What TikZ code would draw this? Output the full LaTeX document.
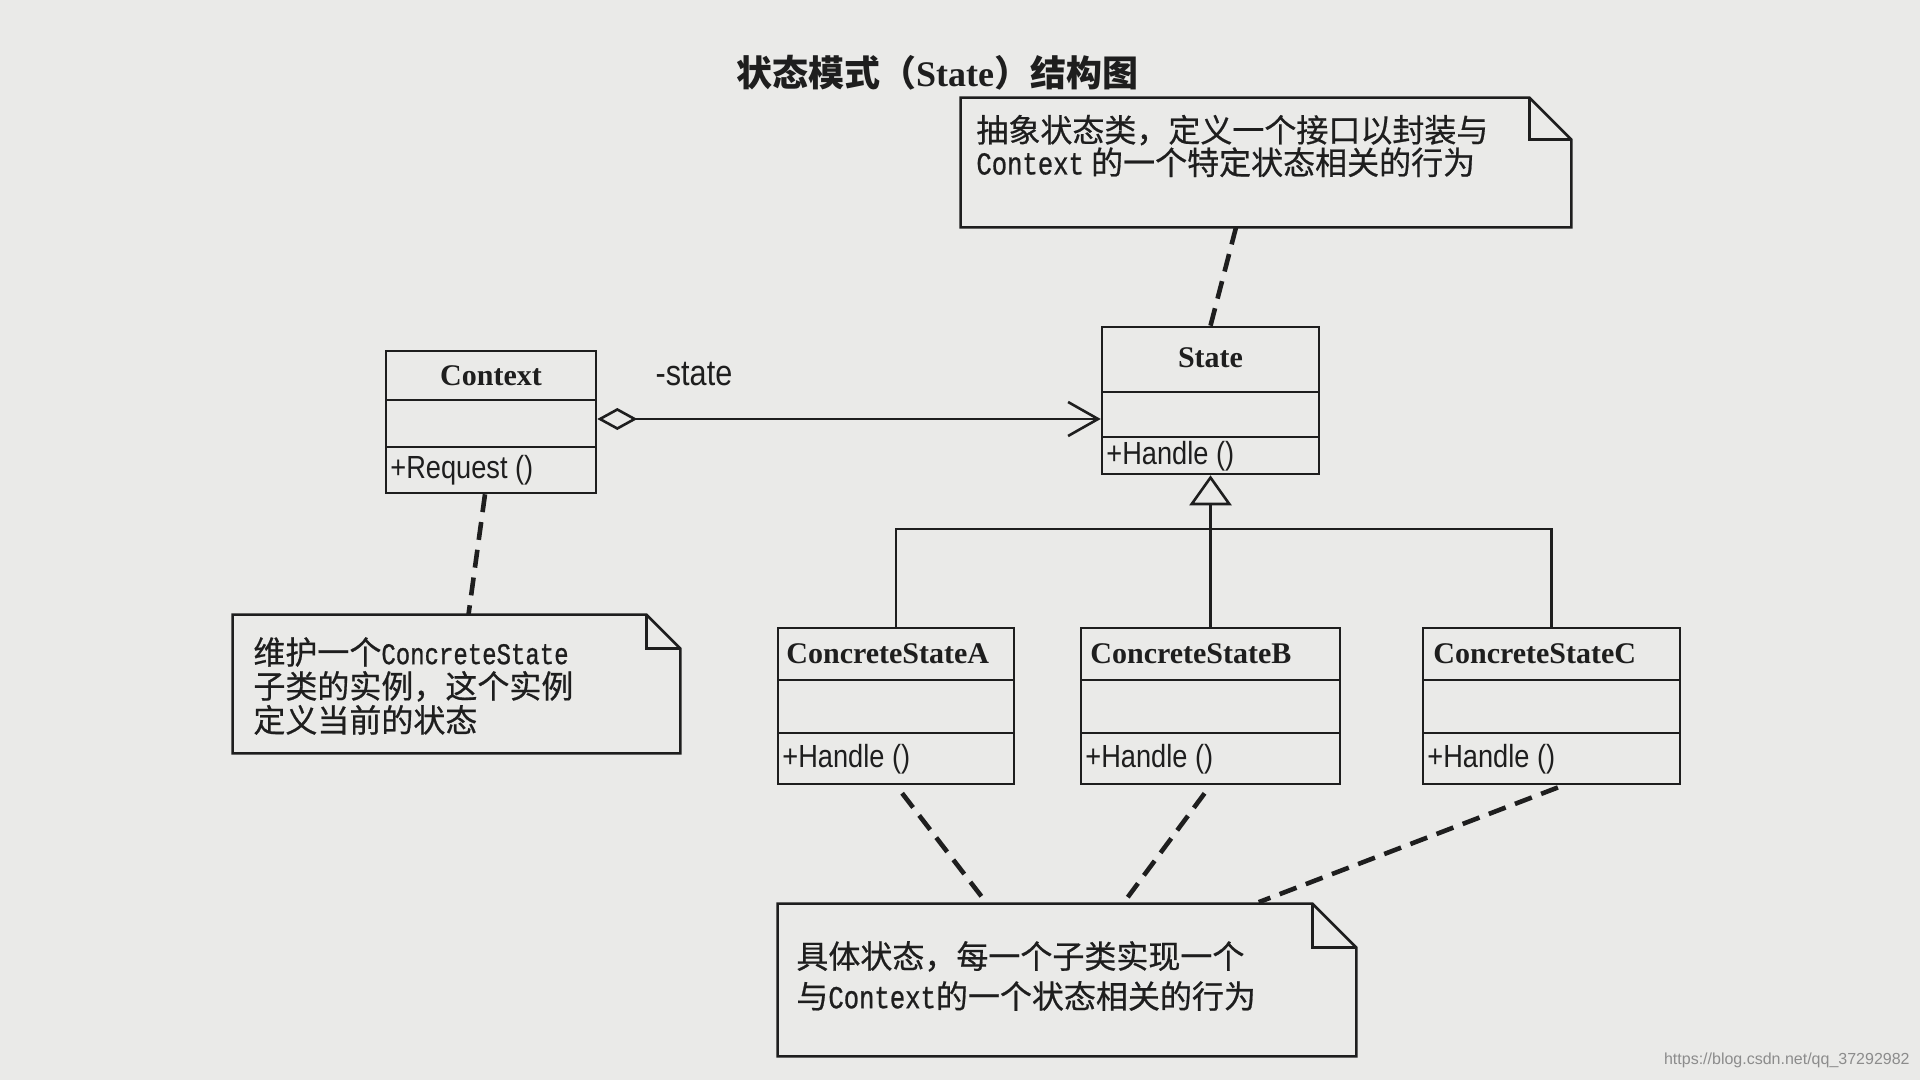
\documentclass[tikz,border=0pt]{standalone}
\usepackage{fontspec}
\setmainfont{Liberation Serif}
\newfontfamily\cjk{Noto Sans CJK SC}
\newfontfamily\cjknote[FakeBold=0.6]{Noto Sans CJK SC}
\newfontfamily\condsans[FakeStretch=0.85]{Liberation Sans}
\newfontfamily\condmono[FakeStretch=0.8,FakeBold=0.8]{Liberation Mono}
\newfontfamily\urlfont{Liberation Sans}
\usetikzlibrary{arrows.meta,fit,calc}
\definecolor{paper}{RGB}{234,234,232}
\definecolor{ink}{RGB}{30,30,30}
\newcommand\foldnote[2]{%
  \draw[ln] (#1.north west) -- ([xshift=-#2]#1.north east) -- ([yshift=-#2]#1.north east) -- (#1.south east) -- (#1.south west) -- cycle;
  \draw[ln] ([xshift=-#2]#1.north east) -- ([xshift=-#2,yshift=-#2]#1.north east) -- ([yshift=-#2]#1.north east);}
\begin{document}
\begin{tikzpicture}[x=0.5pt,y=-0.5pt,
  ln/.style={draw=ink, line width=1.3pt},
  box/.style={draw=ink, line width=1.3pt, inner sep=0pt},
  area/.style={inner sep=0pt},
  clsname/.style={font=\bfseries\fontsize{15}{18}\selectfont, text=ink, inner sep=0pt},
  meth/.style={font=\condsans\fontsize{16}{19}\selectfont, text=ink, anchor=west, inner sep=0pt},
  notetext/.style={font=\cjknote\fontsize{16}{19}\selectfont, text=ink, align=left, anchor=west, inner sep=0pt},
  dsh/.style={draw=ink, line width=2.3pt, dash pattern=on 9pt off 5pt},
]
\useasboundingbox (0,0) rectangle (1920,1080);
\fill[paper] (0,0) rectangle (1920,1080);

% title
\node[text=ink, inner sep=0pt] (title) at (937,73)
  {\cjk\bfseries\fontsize{18}{22}\selectfont 状态模式（\rmfamily State\cjk ）结构图};

% Context
\node[box, fit={(386,351) (596,493)}] (ctx) {};
\draw[ln] (386,400) -- (596,400);
\draw[ln] (386,447) -- (596,447);
\node[clsname] (ctxname) at (491,376) {Context};
\node[meth] (ctxm) at (390,470) {+Request ()};

% State
\node[box, fit={(1102,327) (1319,474)}] (st) {};
\draw[ln] (1102,392) -- (1319,392);
\draw[ln] (1102,437) -- (1319,437);
\node[clsname] (stname) at (1210.5,358) {State};
\node[meth] (stm) at (1106,456) {+Handle ()};

% Concrete states
\node[box, fit={(778,628) (1014,784)}] (A) {};
\draw[ln] (778,680) -- (1014,680);
\draw[ln] (778,733) -- (1014,733);
\node[clsname, anchor=west] (Aname) at (786,654) {ConcreteStateA};
\node[meth] (Am) at (782,759) {+Handle ()};

\node[box, fit={(1081,628) (1340,784)}] (B) {};
\draw[ln] (1081,680) -- (1340,680);
\draw[ln] (1081,733) -- (1340,733);
\node[clsname, anchor=west] (Bname) at (1090,654) {ConcreteStateB};
\node[meth] (Bm) at (1085,759) {+Handle ()};

\node[box, fit={(1423,628) (1680,784)}] (C) {};
\draw[ln] (1423,680) -- (1680,680);
\draw[ln] (1423,733) -- (1680,733);
\node[clsname, anchor=west] (Cname) at (1433,654) {ConcreteStateC};
\node[meth] (Cm) at (1427,759) {+Handle ()};

% notes
\node[area, fit={(961,98) (1571,227)}] (tnote) {};
\foldnote{tnote}{21pt}
\node[notetext, font=\cjknote\fontsize{16}{15}\selectfont] (ttext) at (976,146)
  {抽象状态类，定义一个接口以封装与\\{\condmono Context} 的一个特定状态相关的行为};

\node[area, fit={(233,615) (680,753)}] (lnote) {};
\foldnote{lnote}{17pt}
\node[notetext, font=\cjknote\fontsize{16}{17}\selectfont] (ltext) at (253,686)
  {维护一个{\condmono\fontsize{15}{17}\selectfont ConcreteState}\\子类的实例，这个实例\\定义当前的状态};

\node[area, fit={(778,904) (1356,1056)}] (bnote) {};
\foldnote{bnote}{22pt}
\node[notetext, font=\cjknote\fontsize{16}{20}\selectfont] (btext) at (796,976)
  {具体状态，每一个子类实现一个\\与{\condmono\fontsize{16}{20}\selectfont Context}的一个状态相关的行为};

% association (aggregation)
\node[font=\condsans\fontsize{18}{21}\selectfont, text=ink, inner sep=0pt] (rolelbl) at (694,374) {-state};
\draw[ln, {Diamond[open,length=20pt,width=11pt]}-{Straight Barb[length=15pt,width=17pt]}]
  (ctx.east |- 0,419) -- (st.west |- 0,419);

% generalization
\coordinate (bus) at (st.south |- 0,529);
\draw[ln, -{Triangle[open,length=15pt,width=21pt]}] (bus) -- (st.south);
\draw[ln] (A.north) |- (bus) -| (C.north);
\draw[ln] (B.north) -- (B.north |- bus);

% note anchors
\draw[dsh] (st.north) -- ([xshift=-15pt]tnote.south);
\draw[dsh] ([xshift=-3pt]ctx.south) -- ([xshift=6pt]lnote.north);
\draw[dsh, shorten <=5pt, shorten >=4pt] (A.south) -- ([xshift=-40pt]bnote.north);
\draw[dsh, shorten <=5pt, shorten >=4pt] (B.south) -- ([xshift=28pt]bnote.north);
\draw[dsh, shorten <=3pt, shorten >=2pt] ([xshift=6pt]C.south) -- ([xshift=94pt]bnote.north);

% watermark
\node[font=\urlfont\fontsize{8}{10}\selectfont, text=black!45, anchor=east, inner sep=0pt] (wm) at (1910,1060) {https://blog.csdn.net/qq\_37292982};
\end{tikzpicture}
\end{document}
